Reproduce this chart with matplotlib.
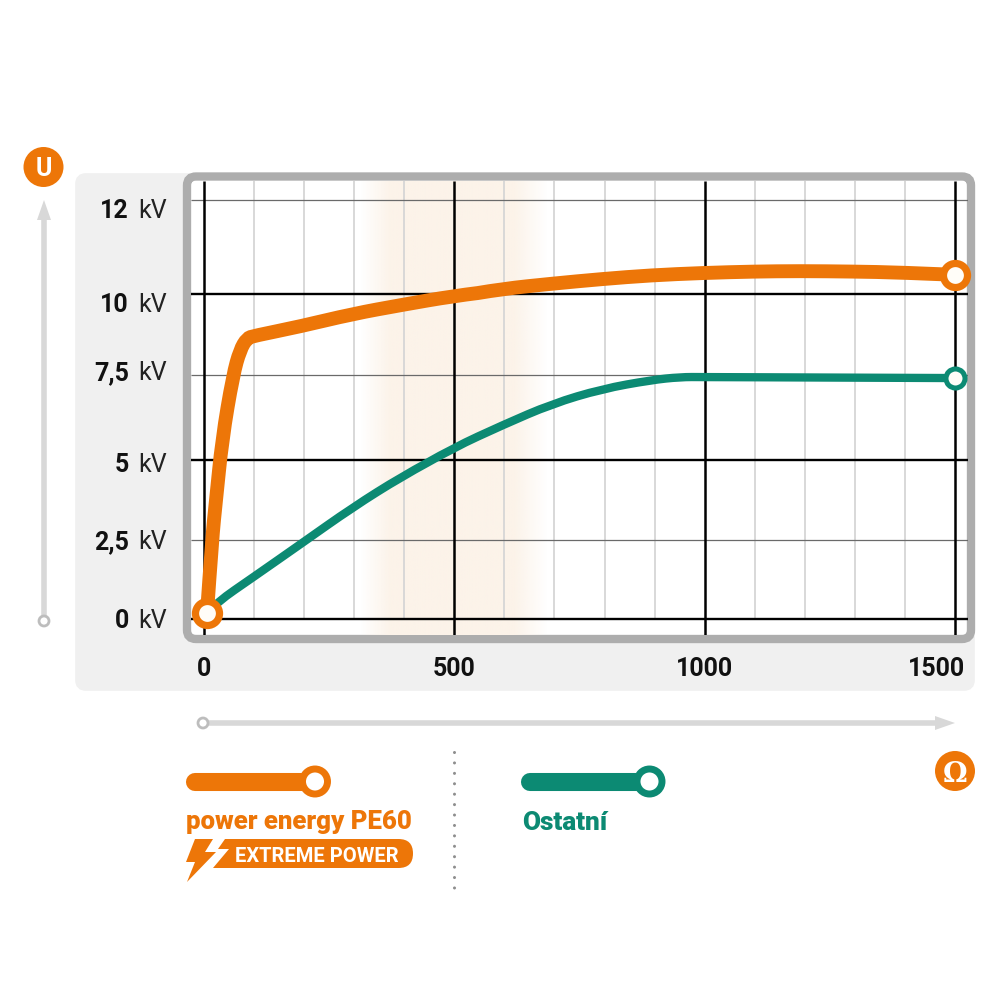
import numpy as np
import matplotlib
matplotlib.use('Agg')
import matplotlib.pyplot as plt
from matplotlib.patches import Circle, FancyBboxPatch, PathPatch, Polygon
from matplotlib.path import Path

plt.rcParams['font.family'] = ['Roboto', 'DejaVu Sans']

ORANGE = '#ED7608'
GREEN = '#0C8A73'
GREY = '#D8D8D8'

# hodnoty
x_ticks = [0, 500, 1000, 1500]
x_label_shift = [0, 0, 0, -18]
x_minor = [100, 200, 300, 400, 600, 700, 800, 900, 1100, 1200, 1300, 1400]
y_major = [0, 5, 10]
y_thin = [2.5, 7.5, 12]
y_ticks = [0, 2.5, 5, 7.5, 10, 12]
y_labels = ['0', '2,5', '5', '7,5', '10', '12']
y_label_shift = [0, 0, -3, 4, -9, -8]

pe60_x = [6, 16, 24, 36, 58, 72, 86, 100, 192, 296, 395, 497, 597, 695, 795, 893, 997, 1098, 1190, 1296, 1390, 1500]
pe60_y = [0.19, 2.5, 3.75, 5.59, 7.5, 8.27, 8.63, 8.70, 8.99, 9.37, 9.65, 9.92, 10.10, 10.21, 10.31, 10.39, 10.44, 10.47, 10.48, 10.47, 10.45, 10.40]
ostatni_x = [6, 26, 96, 196, 296, 395, 497, 597, 695, 795, 893, 951, 997, 1500]
ostatni_y = [0.19, 0.53, 1.29, 2.39, 3.5, 4.48, 5.35, 6.03, 6.65, 7.09, 7.35, 7.44, 7.44, 7.41]

# osa y v originále není lineární (12 kV je výš)
y_real = [-0.5, 0, 2.5, 5, 7.5, 10, 12, 12.41]
y_pos = [-16, 0, 79.5, 159, 244, 325.5, 419, 438]


def forward(v):
    return np.interp(v, y_real, y_pos)


def inverse(v):
    return np.interp(v, y_pos, y_real)


def smooth_path(xs, ys):
    # křivka přes odečtené body, ať to není lomená čára
    pts = list(zip(xs, ys))
    verts = [pts[0]]
    codes = [Path.MOVETO]
    for i in range(1, len(pts) - 1):
        next_pt = pts[i + 1]
        if i < len(pts) - 2:
            next_pt = ((pts[i][0] + pts[i + 1][0]) / 2, (pts[i][1] + pts[i + 1][1]) / 2)
        verts += [pts[i], next_pt]
        codes += [Path.CURVE3, Path.CURVE3]
    return Path(verts, codes)


fig = plt.figure(figsize=(10, 10), dpi=100)

# pozadí v pixelech
bg = fig.add_axes([0, 0, 1, 1], zorder=0)
bg.axis('off')

bg.add_patch(FancyBboxPatch((80, 178), 890, 508, boxstyle='round,pad=0,rounding_size=6',
                            fc='#F0F0F0', ec='#F0F0F0', lw=7))
bg.add_patch(FancyBboxPatch((187, 176.5), 784, 462.5, boxstyle='round,pad=0,rounding_size=9',
                            fc='white', ec='#ADADAD', lw=6))

# oranžový pruh
band = np.ones((2, 200, 4))
band[:, :, :3] = matplotlib.colors.to_rgb('#FCF3E9')
band[:, :, 3] = np.interp(np.linspace(360, 548, 200), [360, 390, 514, 548], [0, 1, 1, 0])
bg.imshow(band, extent=(360, 548, 635, 181), aspect='auto', zorder=2)
bg.set_xlim(0, 1000)
bg.set_ylim(1000, 0)

# šipky os
bg.plot([44, 44], [616, 215], color=GREY, lw=4, solid_capstyle='butt')
bg.add_patch(Polygon([(44, 200), (51, 220), (37, 220)], fc=GREY, ec='none'))
bg.add_patch(Circle((44, 621), 5, fc='white', ec='#BDBDBD', lw=2, zorder=3))
bg.plot([208, 938], [723, 723], color=GREY, lw=4, solid_capstyle='butt')
bg.add_patch(Polygon([(955, 723), (935, 716), (935, 730)], fc=GREY, ec='none'))
bg.add_patch(Circle((203, 723), 5, fc='white', ec='#BDBDBD', lw=2, zorder=3))

# odznaky U a Ω
bg.add_patch(Circle((43.5, 167), 20, fc=ORANGE, ec='none'))
bg.text(43.5, 167, 'U', color='white', fontsize=18, fontweight='bold', ha='center', va='center_baseline')
bg.add_patch(Circle((955, 771), 20, fc=ORANGE, ec='none'))
bg.text(955, 771, 'Ω', color='white', fontsize=20, fontweight='bold', family='DejaVu Serif',
        ha='center', va='center_baseline')

# legenda
bg.plot([195, 310], [781.5, 781.5], color=ORANGE, lw=13, solid_capstyle='round')
bg.add_patch(Circle((315, 781.5), 12.5, fc='white', ec=ORANGE, lw=5, zorder=3))
bg.plot([530, 645], [781.5, 781.5], color=GREEN, lw=13, solid_capstyle='round')
bg.add_patch(Circle((649.5, 781.5), 12.5, fc='white', ec=GREEN, lw=5, zorder=3))
bg.text(186, 820, 'power energy PE60', color=ORANGE, fontsize=18.5, fontweight='black', va='center_baseline')
bg.text(522, 820, 'Ostatní', color=GREEN, fontsize=18.8, fontweight='black', va='center_baseline')

bg.add_patch(FancyBboxPatch((240, 839), 173, 29, boxstyle='round,pad=0,rounding_size=14.5', fc=ORANGE, ec='none'))
bg.add_patch(Polygon([(225, 839), (260, 839), (260, 868), (213, 868), (229, 849), (218, 849)], fc=ORANGE, ec='none'))
bg.add_patch(Polygon([(195, 839), (213, 839), (205, 852), (216, 852), (187, 882), (195, 862), (186, 862)],
                     fc=ORANGE, ec='none'))
bg.text(316.5, 854, 'EXTREME POWER', color='white', fontsize=14.5, fontweight='bold', ha='center', va='center_baseline')

bg.plot([453.5, 453.5], [752, 892], color='#8E8E8E', lw=2.2, dash_capstyle='round', linestyle=(0, (0.01, 3.4)))

# vlastní graf
ax = fig.add_axes([0.191, 1 - 0.635, 0.777, 0.454], zorder=1)
ax.patch.set_alpha(0)
ax.set_yscale('function', functions=(forward, inverse))
ax.set_xlim(-26, 1526)
ax.set_ylim(-0.5, 12.41)
for s in ax.spines.values():
    s.set_visible(False)
ax.tick_params(length=0)
ax.set_xticks([])
ax.set_yticks([])

ax.vlines(x_minor, 0, 12.41, color='#D6D6D6', lw=1.3, zorder=1)
ax.hlines(y_thin, -26, 1526, color='#6A6A6A', lw=0.9, zorder=2)
ax.hlines(y_major, -26, 1526, color='black', lw=1.7, zorder=2)
ax.vlines(x_ticks, -0.5, 12.41, color='black', lw=1.8, zorder=2)

ax.add_patch(PathPatch(smooth_path(pe60_x, pe60_y), fc='none', ec=ORANGE, lw=10, zorder=4, clip_on=False))
ax.add_patch(PathPatch(smooth_path(ostatni_x, ostatni_y), fc='none', ec=GREEN, lw=6, zorder=3, clip_on=False))
ax.plot(pe60_x[-1], pe60_y[-1], 'o', ms=17.3, mfc='#FFFDF8', mec=ORANGE, mew=5.2, zorder=6, clip_on=False)
ax.plot(ostatni_x[-1], ostatni_y[-1], 'o', ms=13.7, mfc='#FFFDF8', mec=GREEN, mew=3.6, zorder=5, clip_on=False)
ax.plot(pe60_x[0], pe60_y[0], 'o', ms=17.3, mfc='#FFFDF8', mec=ORANGE, mew=5.2, zorder=6, clip_on=False)

# popisky x
for val, shift in zip(x_ticks, x_label_shift):
    ax.annotate(str(val), xy=(val, 0), xycoords=('data', 'axes fraction'), xytext=(shift, -32),
                textcoords='offset pixels', ha='center', va='center_baseline',
                fontsize=18, fontweight='bold', color='#111111')

# popisky y: číslo tučně, kV normálně
for val, lab, shift in zip(y_ticks, y_labels, y_label_shift):
    ax.annotate(lab, xy=(0, val), xycoords=('axes fraction', 'data'), xytext=(-62, shift),
                textcoords='offset pixels', ha='right', va='center_baseline',
                fontsize=18, fontweight='bold', color='#111111')
    ax.annotate('kV', xy=(0, val), xycoords=('axes fraction', 'data'), xytext=(-53, shift),
                textcoords='offset pixels', ha='left', va='center_baseline',
                fontsize=18, color='#222222')

fig.savefig('out.png', dpi=100, facecolor='white')
